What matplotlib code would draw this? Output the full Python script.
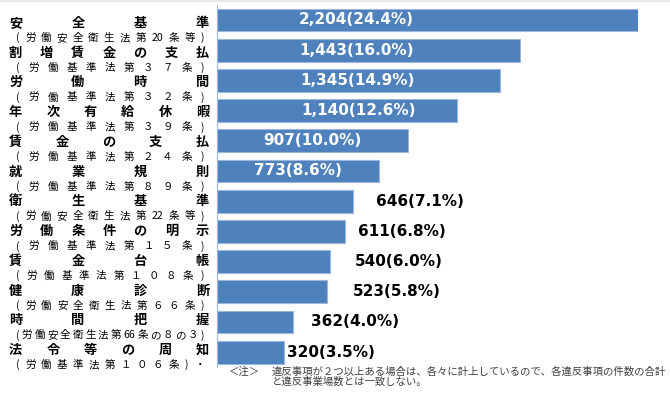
import re
import matplotlib
matplotlib.use("Agg")
import matplotlib.pyplot as plt
from matplotlib.lines import Line2D

W, H = 670, 393

# data
items = ["安全基準", "割増賃金の支払", "労働時間", "年次有給休暇", "賃金の支払", "就業規則",
         "衛生基準", "労働条件の明示", "賃金台帳", "健康診断", "時間把握", "法令等の周知"]
laws = ["(労働安全衛生法第20条等)", "(労働基準法第３７条)", "(労働基準法第３２条)",
        "(労働基準法第３９条)", "(労働基準法第２４条)", "(労働基準法第８９条)",
        "(労働安全衛生法第22条等)", "(労働基準法第１５条)", "(労働基準法第１０８条)",
        "(労働安全衛生法第６６条)", "(労働安全衛生法第66条の８の３)", "(労働基準法第１０６条)・"]
counts = [2204, 1443, 1345, 1140, 907, 773, 646, 611, 540, 523, 362, 320]
shares = [24.4, 16.0, 14.9, 12.6, 10.0, 8.6, 7.1, 6.8, 6.0, 5.8, 4.0, 3.5]

# where each value label sits (x in data units) and whether it is inside the bar
label_x = [663, 663, 668, 676, 453, 386, 755, 670, 657, 647, 447, 333]
inside = [True] * 6 + [False] * 6

note1 = "違反事項が２つ以上ある場合は、各々に計上しているので、各違反事項の件数の合計"
note2 = "と違反事業場数とは一致しない。"

JP = ["Noto Sans CJK JP", "DejaVu Sans"]
BLUE = "#4F81BD"

fig = plt.figure(figsize=(W / 100, H / 100), dpi=100)
top, pitch = 4.9, 30.2
n = len(counts)
ax = fig.add_axes([216.7 / W, 1 - (top + pitch * n) / H, 421 / W, pitch * n / H])

ys = list(range(n))
ax.barh(ys, counts, height=0.76, color=BLUE, edgecolor="#9DB6DC", linewidth=0.8)
ax.set_xlim(0, 2000)
ax.set_ylim(n - 0.5, -0.5)
ax.set_xticks([])
ax.set_yticks([])
for s in ["top", "right", "bottom"]:
    ax.spines[s].set_visible(False)
ax.spines["left"].set_color("#9DB6DC")
ax.spines["left"].set_linewidth(0.8)

for i, (c, p) in enumerate(zip(counts, shares)):
    txt = f"{c:,}({p:.1f}%)"
    if inside[i]:
        ax.text(label_x[i], i, txt, ha="center", va="center", color="white",
                fontsize=11, fontweight="bold", family="DejaVu Sans")
    else:
        ax.text(label_x[i], i, txt, ha="left", va="center", color="black",
                fontsize=11, fontweight="bold", family="DejaVu Sans", clip_on=False)


def spread(s, ypx, size, weight, x0, x1):
    # spread the characters evenly over x0..x1 (pixels), like distributed alignment
    toks = re.findall(r"[0-9]+|.", s)
    wid = []
    for t in toks:
        if t.isascii() and t.isdigit():
            wid.append(0.58 * len(t))
        elif t in "()":
            wid.append(0.45)
        else:
            wid.append(1.0)
    em = size * 100 / 72
    gap = (x1 - x0 - sum(wid) * em) / (len(toks) - 1)
    x = x0
    for t, w in zip(toks, wid):
        fig.text((x + w * em / 2) / W, 1 - ypx / H, t, ha="center", va="center",
                 fontsize=size, fontweight=weight, family=JP)
        x += w * em + gap


for i in range(n):
    y = 23 + 29.73 * i
    spread(items[i], y, 9.5, "bold", 9, 209)
    spread(laws[i], y + 15, 7.6, "normal", 15, 205)

fig.text(229 / W, 1 - 371.5 / H, "＜注＞", ha="left", va="center", fontsize=7.5,
         family=JP, color="#404040")
fig.text(271.7 / W, 1 - 371.5 / H, note1, ha="left", va="center", fontsize=7.5,
         family=JP, color="#404040")
fig.text(271.7 / W, 1 - 382 / H, note2, ha="left", va="center", fontsize=7.5,
         family=JP, color="#404040")

fig.add_artist(Line2D([0, 1], [1 - 1 / H, 1 - 1 / H], transform=fig.transFigure,
                      color="#E6E6E6", linewidth=1.5))

fig.savefig("out.png", dpi=100)
